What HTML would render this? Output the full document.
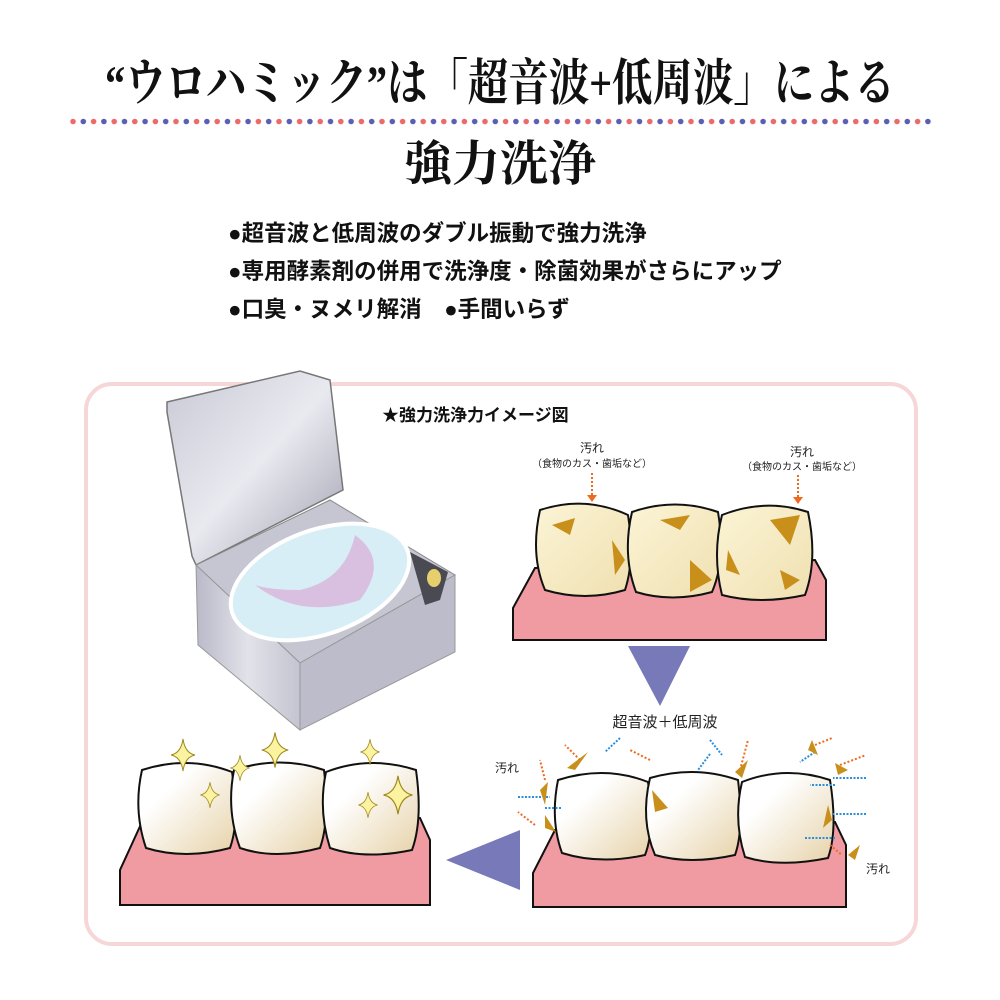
<!DOCTYPE html>
<html><head><meta charset="utf-8"><style>
body{margin:0;background:#fff;}
svg{display:block}
</style></head><body>
<svg width="1000" height="1000" viewBox="0 0 1000 1000" xmlns="http://www.w3.org/2000/svg">
<defs>
<linearGradient id="lid" x1="0" y1="0" x2="1" y2="1"><stop offset="0" stop-color="#c9c9d6"/><stop offset="0.5" stop-color="#e9e9f0"/><stop offset="1" stop-color="#9e9eae"/></linearGradient>
<linearGradient id="body" x1="0" y1="0" x2="1" y2="0"><stop offset="0" stop-color="#b9b9c8"/><stop offset="0.5" stop-color="#e2e2ea"/><stop offset="1" stop-color="#c4c4d0"/></linearGradient>
<linearGradient id="tw" x1="0" y1="0" x2="1" y2="1"><stop offset="0.3" stop-color="#ffffff"/><stop offset="1" stop-color="#e6d2a8"/></linearGradient>
<linearGradient id="tc" x1="0" y1="0" x2="1" y2="1"><stop offset="0" stop-color="#fbf4d6"/><stop offset="1" stop-color="#f0e0b0"/></linearGradient>
<pattern id="dp" x="70.2" y="118" width="20.6" height="7" patternUnits="userSpaceOnUse">
<circle cx="2.8" cy="3.5" r="2.8" fill="#ec6a6a"/><circle cx="13.1" cy="3.5" r="2.8" fill="#5b5fb4"/>
</pattern>
</defs>
<g font-family="'Liberation Serif','Noto Serif CJK SC',serif" font-weight="bold" fill="#111">
<text x="500" y="100" font-size="50" text-anchor="middle" textLength="790" lengthAdjust="spacingAndGlyphs">“ウロハミック”は「超音波+低周波」による</text>
<text x="500" y="180" font-size="48" text-anchor="middle">強力洗浄</text>
</g>
<rect x="70.2" y="118" width="865" height="7" fill="url(#dp)"/>
<g font-family="'Liberation Sans','Noto Sans CJK JP',sans-serif" font-size="22.5" fill="#111" font-weight="bold">
<text x="228" y="241">●超音波と低周波のダブル振動で強力洗浄</text>
<text x="228" y="279">●専用酵素剤の併用で洗浄度・除菌効果がさらにアップ</text>
<text x="228" y="317">●口臭・ヌメリ解消　●手間いらず</text>
</g>
<rect x="86" y="384" width="830" height="560" rx="26" fill="none" stroke="#f7d6d8" stroke-width="4"/>
<!-- device -->
<polygon points="167,402 300,371 330,380 343,490 196,565 192,556 167,412" fill="url(#lid)" stroke="#777" stroke-width="1.5"/>
<polygon points="196,565 330,500 455,575 300,663" fill="#c6c6d2" stroke="#888"/>
<polygon points="196,565 300,663 300,730 198,645" fill="url(#body)" stroke="#999"/>
<polygon points="300,663 455,575 455,652 300,730" fill="#bcbcca" stroke="#999"/>
<ellipse cx="320" cy="582" rx="93" ry="52" transform="rotate(-20 320 582)" fill="#d8eef6" stroke="#fff" stroke-width="4"/>
<path d="M255 585 Q300 620 360 600 Q390 560 355 535 Q345 580 300 590 Q270 590 255 585Z" fill="#d9c0e0"/>
<polygon points="410,552 448,572 440,600 425,605" fill="#4a4a52"/>
<ellipse cx="434" cy="578" rx="7" ry="9" fill="#e7cf6e"/>
<text x="382" y="421" font-family="'Liberation Sans','Noto Sans CJK JP',sans-serif" font-size="17" font-weight="bold" fill="#111">★強力洗浄力イメージ図</text>
<g font-family="'Liberation Sans','Noto Sans CJK JP',sans-serif" fill="#222" text-anchor="middle">
<text x="592" y="452" font-size="12">汚れ</text><text x="592" y="467" font-size="10">（食物のカス・歯垢など）</text>
<text x="802" y="456" font-size="12">汚れ</text><text x="802" y="470" font-size="10">（食物のカス・歯垢など）</text>
</g>
<g stroke="#ef6a1e" stroke-width="2" stroke-dasharray="2 2"><line x1="592" y1="473" x2="592" y2="495"/><line x1="798" y1="475" x2="798" y2="497"/></g>
<polygon points="587,495 597,495 592,502" fill="#ef6a1e"/><polygon points="793,497 803,497 798,504" fill="#ef6a1e"/>
<!-- top teeth -->
<polygon points="513,640 513,608 535,568 815,560 826,580 826,640" fill="#f09ba2" stroke="#111" stroke-width="2"/>
<g fill="url(#tc)" stroke="#111" stroke-width="2">
<path d="M540 510 Q585 495 628 515 Q635 560 625 590 Q585 602 545 590 Q530 555 540 510Z"/>
<path d="M632 512 Q675 497 718 512 Q726 560 712 592 Q672 603 636 592 Q622 555 632 512Z"/>
<path d="M722 515 Q765 498 808 512 Q818 560 805 595 Q760 605 722 595 Q712 555 722 515Z"/>
</g>
<g fill="#c8901a"><path d="M552 525 L575 518 L570 535 Z"/><path d="M612 540 L625 560 L615 575 Z"/><path d="M660 520 L690 515 L680 530Z"/><path d="M690 560 L712 580 L690 592Z"/><path d="M770 520 L800 515 L790 545Z"/><path d="M780 570 L800 580 L785 590Z"/><path d="M728 550 L740 575 L726 570Z"/></g>
<polygon points="628,646 690,646 660,706" fill="#7779b8"/>
<text x="665" y="727" font-family="'Liberation Sans','Noto Sans CJK JP',sans-serif" font-size="15" text-anchor="middle" fill="#222">超音波＋低周波</text>
<!-- bottom right teeth -->
<polygon points="533,907 533,873 555,830 835,822 846,845 846,907" fill="#f09ba2" stroke="#111" stroke-width="2"/>
<g fill="url(#tw)" stroke="#111" stroke-width="2">
<path d="M558 780 Q605 765 648 782 Q655 830 645 855 Q600 865 562 853 Q550 820 558 780Z"/>
<path d="M650 778 Q695 765 738 780 Q744 830 735 855 Q690 865 655 855 Q640 820 650 778Z"/>
<path d="M742 782 Q785 765 830 780 Q838 830 828 858 Q780 868 745 857 Q733 820 742 782Z"/>
</g>
<g font-family="'Liberation Sans','Noto Sans CJK JP',sans-serif" font-size="12" fill="#222"><text x="495" y="772">汚れ</text><text x="866" y="873">汚れ</text></g>
<g stroke="#2a8fe0" stroke-width="2" stroke-dasharray="2 1.5"><line x1="518" y1="797" x2="550" y2="797"/><line x1="545" y1="808" x2="562" y2="808"/><line x1="866" y1="778" x2="833" y2="778"/><line x1="866" y1="814" x2="833" y2="814"/><line x1="835" y1="785" x2="810" y2="785"/><line x1="835" y1="838" x2="805" y2="838"/><line x1="620" y1="738" x2="605" y2="752"/><line x1="710" y1="754" x2="698" y2="770"/><line x1="710" y1="740" x2="722" y2="755"/><line x1="815" y1="752" x2="800" y2="762"/></g>
<g stroke="#ef6a1e" stroke-width="2" stroke-dasharray="2 2"><line x1="580" y1="760" x2="565" y2="745"/><line x1="545" y1="780" x2="540" y2="760"/><line x1="535" y1="825" x2="518" y2="812"/><line x1="650" y1="760" x2="630" y2="750"/><line x1="740" y1="770" x2="748" y2="740"/><line x1="815" y1="745" x2="832" y2="738"/><line x1="840" y1="765" x2="866" y2="755"/><line x1="830" y1="845" x2="842" y2="855"/></g>
<g fill="#c8901a"><path d="M567 768 L588 752 L575 770Z"/><path d="M540 790 L545 805 L548 782Z"/><path d="M545 815 L556 832 L545 828Z"/><path d="M652 790 L668 808 L655 812Z"/><path d="M735 772 L748 760 L742 778Z"/><path d="M812 740 L818 755 L808 750Z"/><path d="M835 763 L848 770 L838 775Z"/><path d="M828 805 L832 820 L823 828Z"/><path d="M848 855 L860 845 L855 860Z"/></g>
<polygon points="520,830 520,890 446,860" fill="#7779b8"/>
<!-- left clean teeth -->
<polygon points="120,905 120,870 142,822 420,818 430,840 430,905" fill="#f09ba2" stroke="#111" stroke-width="2"/>
<g fill="url(#tw)" stroke="#111" stroke-width="2">
<path d="M142 770 Q188 755 232 772 Q240 820 230 848 Q185 860 146 848 Q133 810 142 770Z"/>
<path d="M234 770 Q280 755 324 770 Q330 820 320 848 Q275 860 240 848 Q226 810 234 770Z"/>
<path d="M326 772 Q370 755 416 770 Q423 820 412 850 Q365 860 330 848 Q318 810 326 772Z"/>
</g>
<g fill="#fbf3a0" stroke="#a08a20" stroke-width="1">
<path d="M0 -16 Q2 -2 12 0 Q2 2 0 16 Q-2 2 -12 0 Q-2 -2 0 -16Z" transform="translate(183,755)"/>
<path d="M0 -16 Q2 -2 12 0 Q2 2 0 16 Q-2 2 -12 0 Q-2 -2 0 -16Z" transform="translate(240,768) scale(0.8)"/>
<path d="M0 -16 Q2 -2 12 0 Q2 2 0 16 Q-2 2 -12 0 Q-2 -2 0 -16Z" transform="translate(275,750) scale(1.1)"/>
<path d="M0 -16 Q2 -2 12 0 Q2 2 0 16 Q-2 2 -12 0 Q-2 -2 0 -16Z" transform="translate(210,795) scale(0.8)"/>
<path d="M0 -16 Q2 -2 12 0 Q2 2 0 16 Q-2 2 -12 0 Q-2 -2 0 -16Z" transform="translate(370,752) scale(0.8)"/>
<path d="M0 -16 Q2 -2 12 0 Q2 2 0 16 Q-2 2 -12 0 Q-2 -2 0 -16Z" transform="translate(398,795) scale(1.2)"/>
<path d="M0 -16 Q2 -2 12 0 Q2 2 0 16 Q-2 2 -12 0 Q-2 -2 0 -16Z" transform="translate(368,805) scale(0.8)"/>
</g>
</svg>
</body></html>
